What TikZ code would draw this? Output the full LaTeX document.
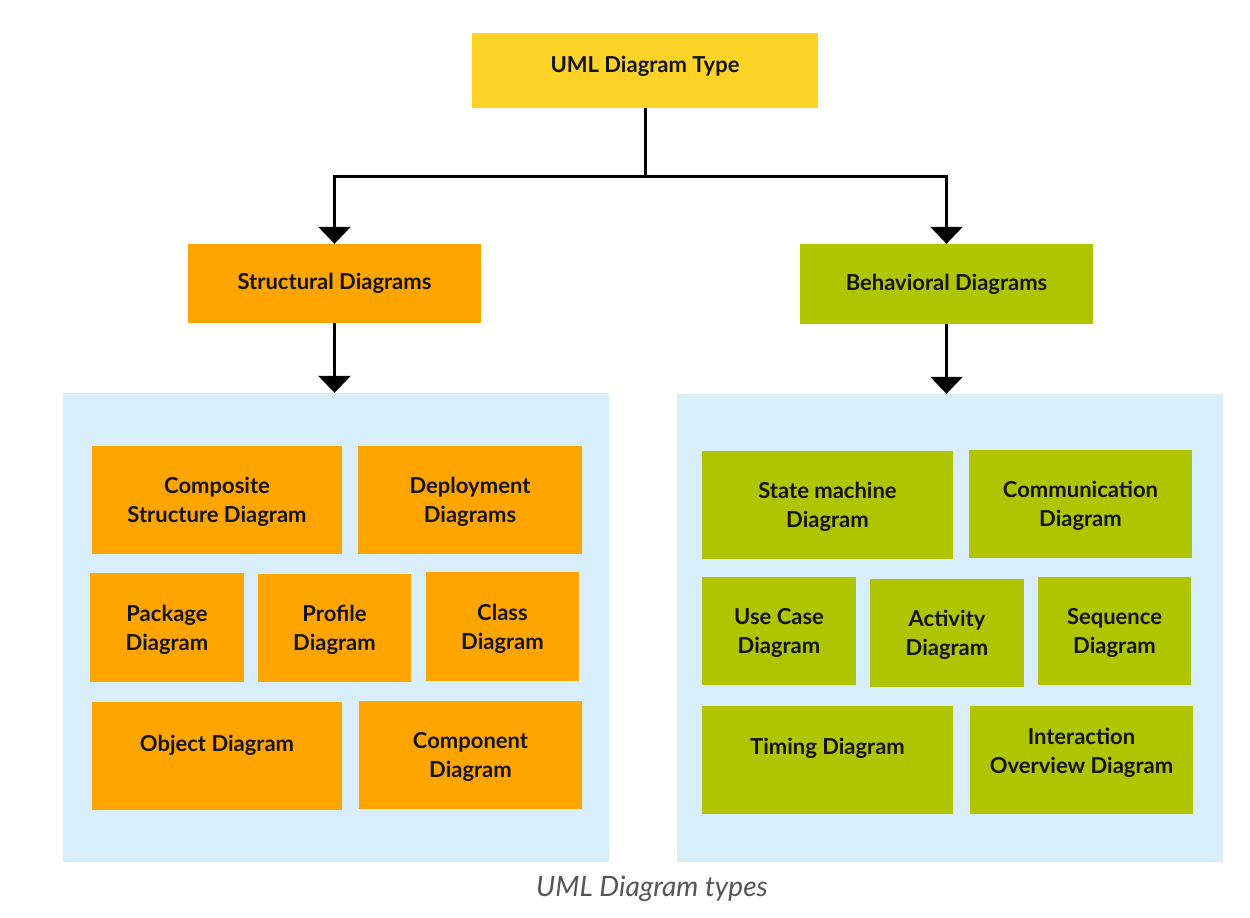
\documentclass[tikz,border=0pt]{standalone}
\usepackage{fontspec}
\setmainfont{Lato}
\usetikzlibrary{arrows.meta}
\definecolor{ylw}{RGB}{252,211,38}
\definecolor{orng}{RGB}{255,165,0}
\definecolor{grn}{RGB}{175,197,0}
\definecolor{pane}{RGB}{216,238,250}
\definecolor{txt}{RGB}{20,20,20}
\definecolor{capgray}{RGB}{85,85,85}
\newcommand{\lblfont}{\fontsize{22}{29}\selectfont\bfseries\color{txt}}
\begin{document}
\begin{tikzpicture}[x=1pt,y=-1pt,
  base/.style={inner sep=0pt, align=center, font=\lblfont, text=txt},
  ybox/.style={base, fill=ylw},
  obox/.style={base, fill=orng},
  gbox/.style={base, fill=grn},
  two/.style={text depth=0pt},
  panel/.style={fill=pane, inner sep=0pt},
  conn/.style={line width=3pt, draw=black},
  arr/.style={conn, -{Triangle[width=32pt,length=17pt]}},
  raised/.style 2 args={label={[base, yshift=#1]center:#2}}
]
\useasboundingbox (0,0) rectangle (1250,918);
\fill[white] (0,0) rectangle (1250,918);

% top level
\node[ybox, minimum width=346pt, minimum height=75pt, raised={4pt}{UML Diagram Type}] (top) at (645,70.5) {};
\node[obox, minimum width=293pt, minimum height=79pt] (struct) at (334.5,283.5) {Structural Diagrams};
\node[gbox, minimum width=293pt, minimum height=80pt] (behav) at (946.5,284) {Behavioral Diagrams};

% panels
\node[panel, minimum width=546pt, minimum height=469pt] (lpanel) at (336,627.5) {};
\node[panel, minimum width=546pt, minimum height=468pt] (rpanel) at (950,628) {};

% connectors
\coordinate (j) at (645,176);
\draw[conn] (top.south) -- (j);
\draw[arr] (j) -| (struct.north);
\draw[arr] (j) -| (behav.north);
\draw[arr] (struct.south) -- (lpanel.north -| struct.south);
\draw[arr] (behav.south) -- (rpanel.north -| behav.south);

% structural diagrams
\node[obox, two, minimum width=250pt, minimum height=108pt] (comp) at (217,500) {Composite\\Structure Diagram};
\node[obox, two, minimum width=224pt, minimum height=108pt] (depl) at (470,500) {Deployment\\Diagrams};
\node[obox, two, minimum width=154pt, minimum height=109pt] (pack) at (167,627.5) {Package\\Diagram};
\node[obox, two, minimum width=153pt, minimum height=108pt] (prof) at (334.5,628) {Profile\\Diagram};
\node[obox, two, minimum width=153pt, minimum height=109pt] (class) at (502.5,626.5) {Class\\Diagram};
\node[obox, minimum width=250pt, minimum height=108pt, raised={11pt}{Object Diagram}] (obj) at (217,756) {};
\node[obox, two, minimum width=223pt, minimum height=108pt] (compo) at (470.5,755) {Component\\Diagram};

% behavioral diagrams
\node[gbox, two, minimum width=251pt, minimum height=108pt] (state) at (827.5,505) {State machine\\Diagram};
\node[gbox, two, minimum width=223pt, minimum height=108pt] (commu) at (1080.5,504) {Communication\\Diagram};
\node[gbox, two, minimum width=154pt, minimum height=108pt] (usec) at (779,631) {Use Case\\Diagram};
\node[gbox, two, minimum width=154pt, minimum height=108pt] (act) at (947,633) {Activity\\Diagram};
\node[gbox, two, minimum width=153pt, minimum height=108pt] (seq) at (1114.5,631) {Sequence\\Diagram};
\node[gbox, minimum width=251pt, minimum height=108pt, raised={12pt}{Timing Diagram}] (timing) at (827.5,760) {};
\node[gbox, minimum width=223pt, minimum height=108pt, raised={7pt}{Interaction\\Overview Diagram}] (inter) at (1081.5,760) {};

% caption
\node[inner sep=0pt, font=\fontsize{28}{33}\selectfont\itshape, text=capgray] (cap) at (652,889) {UML Diagram types};
\end{tikzpicture}
\end{document}
